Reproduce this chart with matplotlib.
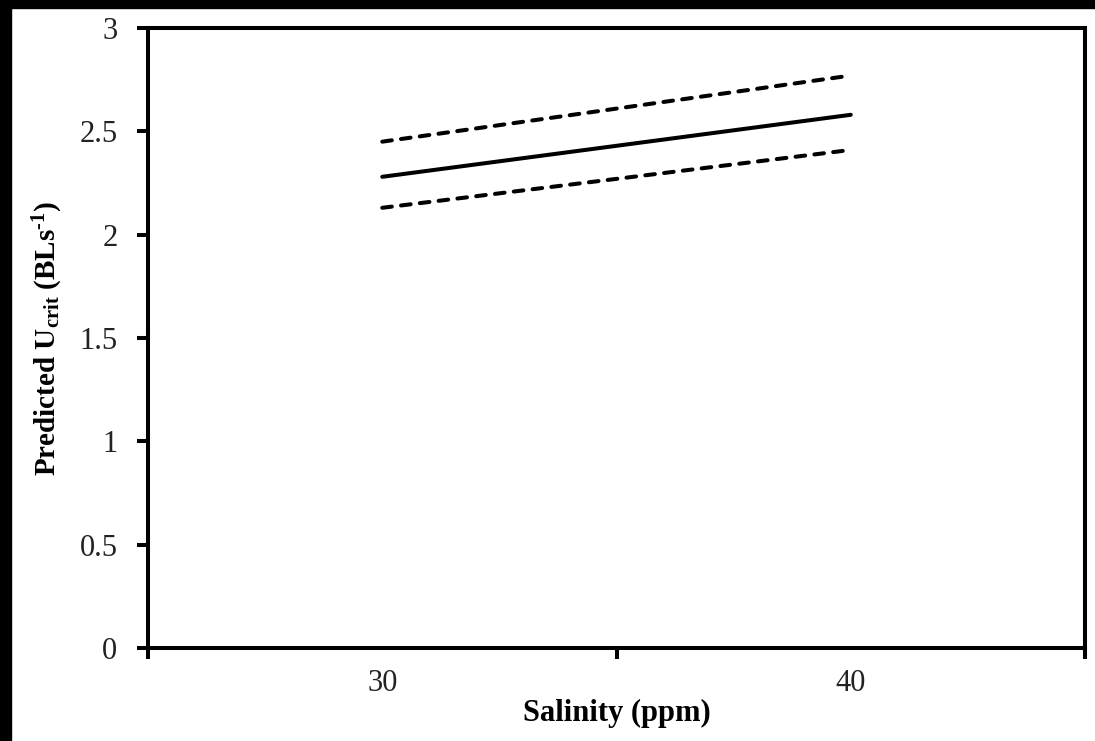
import matplotlib
matplotlib.use("Agg")
import matplotlib.pyplot as plt
from matplotlib.patches import Rectangle

# Données
salinity = ["30", "40"]
predicted = [2.28, 2.58]
upper_ci = [2.45, 2.77]
lower_ci = [2.13, 2.41]

plt.rcParams["font.family"] = "Liberation Serif"
plt.rcParams["mathtext.fontset"] = "custom"
plt.rcParams["mathtext.rm"] = "Liberation Serif:bold"
plt.rcParams["mathtext.it"] = "Liberation Serif:bold"
plt.rcParams["mathtext.bf"] = "Liberation Serif:bold"

fig = plt.figure(figsize=(10.95, 7.41), dpi=100)
fig.patch.set_facecolor("white")
# bande noire en haut et à gauche
fig.patches.append(Rectangle((0, 0), 11 / 1095, 1, transform=fig.transFigure,
                             color="black", zorder=0))
fig.patches.append(Rectangle((0, 1 - 8 / 741), 1, 8 / 741, transform=fig.transFigure,
                             color="black", zorder=0))

ax = fig.add_axes([148 / 1095, 1 - 648 / 741, (1085 - 148) / 1095, (648 - 28) / 741])

x = list(range(1, len(salinity) + 1))
ax.plot(x, predicted, color="black", lw=2.9, solid_capstyle="round")
for serie in (upper_ci, lower_ci):
    ax.plot(x, serie, color="black", lw=2.9, dashes=(2.4, 2.3),
            dash_capstyle="round")

ax.set_xlim(0.5, len(salinity) + 0.5)
ax.set_ylim(0, 3)
ax.set_xticks([0.5, 1.5, 2.5])
ax.set_xticklabels([])
ax.set_xticks(x, minor=True)
ax.set_xticklabels(salinity, minor=True)
ax.tick_params(axis="x", which="minor", length=0, pad=15, labelsize=22,
               labelcolor="#222222")
ax.tick_params(axis="x", which="major", length=8, width=2.9, direction="out")
ax.set_yticks([0, 0.5, 1, 1.5, 2, 2.5, 3])
ax.set_yticklabels(["0", "0.5", "1", "1.5", "2", "2.5", "3"])
ax.tick_params(axis="y", length=8, width=2.9, direction="out", labelsize=22,
               pad=14, labelcolor="#222222")

for s in ax.spines.values():
    s.set_linewidth(2.9)

ax.set_xlabel("Salinity (ppm)", fontsize=22, fontweight="bold", labelpad=1)
ax.set_ylabel(r"Predicted U$_{\mathrm{crit}}$ (BLs$^{\mathrm{\text{-}1}}$)", fontsize=21,
              fontweight="bold", labelpad=10)

fig.savefig("out.png", dpi=100)
